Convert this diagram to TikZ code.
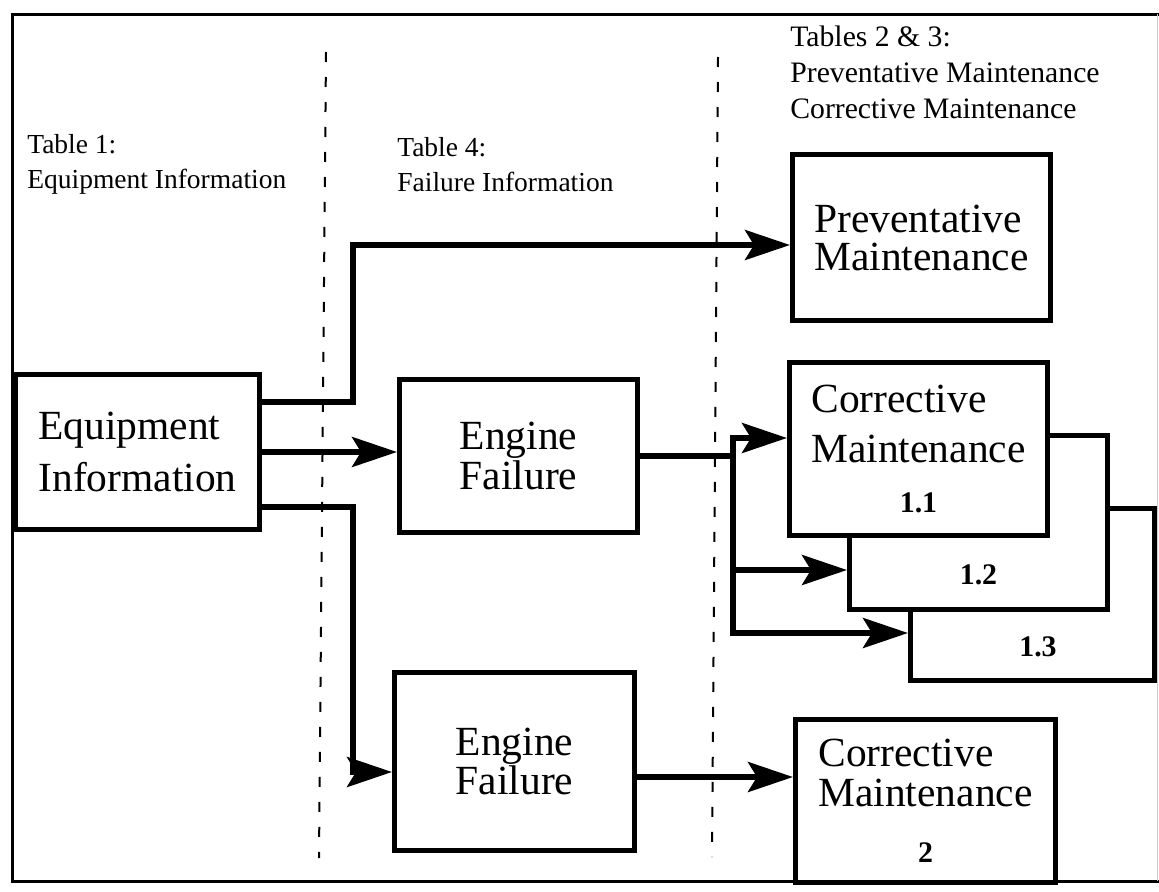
\documentclass[tikz,border=0pt]{standalone}
\usepackage{fontspec}
\setmainfont{Liberation Serif}
\usepackage{tikz}
\usetikzlibrary{arrows.meta}

% box text: size fixed, line spacing per box
\newcommand{\boxfont}[1]{\fontsize{23.6}{#1}\selectfont}
\newcommand{\numfont}{\fontsize{17}{20}\selectfont\bfseries}

\begin{document}
\begin{tikzpicture}[node distance=1cm]
\tikzstyle{infobox} = [rectangle, draw=black, line width=0.1cm, fill=white, inner sep=0pt, align=left]
\tikzstyle{tablelabel} = [anchor=north west, inner sep=0pt, align=left, font=\fontsize{15.65}{19.9}\selectfont]
\tikzstyle{numtext} = [inner sep=0pt, font=\numfont]
\tikzstyle{line} = [draw, line width=0.11cm]
\tikzstyle{arrow} = [draw, line width=0.11cm, -{Stealth[length=0.9cm, width=0.6cm, inset=0.18cm]}]
\tikzstyle{divider} = [draw, line width=0.04cm, dash pattern=on 0.2cm off 0.3cm]

\useasboundingbox (0,0) rectangle (23.18,-17.84);

% outer frame
\draw [line width=0.06cm] (23.18,-0.28) -- (0.26,-0.28) -- (0.26,-17.62) -- (23.18,-17.62);
\draw [gray!40, line width=0.02cm] (23.14,-0.28) -- (23.14,-17.62);

% column dividers
\draw [divider] (6.52,-1.04) -- (6.38,-17.16);
\draw [divider] (14.36,-1.14) -- (14.24,-17.14);

% column headings
\node (tab1) [tablelabel] at (0.54,-2.68) {Table 1:\\Equipment Information};
\node (tab4) [tablelabel] at (7.94,-2.74) {Table 4:\\Failure Information};
\node (tab23) [tablelabel, font=\fontsize{16.9}{20.4}\selectfont] at (15.8,-0.52) {Tables 2 \& 3:\\Preventative Maintenance\\Corrective Maintenance};

% boxes
\node (eqinfo) [infobox, minimum width=4.88cm, minimum height=3.1cm, font=\boxfont{29.6}] at (2.75,-9.04) {Equipment\\Information};
\node (ef1) [infobox, minimum width=4.76cm, minimum height=3.06cm, font=\boxfont{22.7}, right of=eqinfo, xshift=6.62cm, yshift=-0.08cm] {Engine\\Failure};
\node (ef2) [infobox, minimum width=4.8cm, minimum height=3.56cm, font=\boxfont{22.7}, below of=ef1, xshift=-0.08cm, yshift=-5.11cm] {Engine\\Failure};

% stacked corrective boxes, back one first
\node (cm13) [infobox, minimum width=4.88cm, minimum height=3.44cm, right of=ef1, xshift=9.28cm, yshift=-2.77cm] {};
\node (cm12) [infobox, minimum width=5.16cm, minimum height=3.48cm, left of=cm13, xshift=-0.08cm, yshift=1.44cm] {};
\node (cm11) [infobox, minimum width=5.16cm, minimum height=3.46cm, font=\boxfont{28.4}, left of=cm12, xshift=-0.2cm, yshift=1.47cm] {Corrective\\Maintenance\\\hfill{\numfont 1.1}\hfill\null};
\node (n13) [numtext] at ([xshift=0.11cm, yshift=0.72cm]cm13.south) {1.3};
\node (n12) [numtext] at ([yshift=0.74cm]cm12.south) {1.2};

\node (pm) [infobox, minimum width=5.16cm, minimum height=3.32cm, font=\boxfont{21.6}, above of=cm11, xshift=0.06cm, yshift=3.23cm] {Preventative\\Maintenance};
\node (cm2) [infobox, minimum width=5.2cm, minimum height=3.26cm, font=\boxfont{22.6}, right of=ef2, xshift=7.22cm, yshift=-0.79cm] {Corrective\\Maintenance\\[9.5pt]\hfill{\numfont 2}\hfill\null};

% connectors
\draw [arrow] ([yshift=1cm]eqinfo.east) -- ++(1.82,0) |- ([yshift=-0.15cm]pm.west);
\draw [arrow] (eqinfo) -- (eqinfo -| ef1.west);
\draw [arrow] ([yshift=-1.1cm]eqinfo.east) -- ++(1.82,0) |- ([yshift=-0.21cm]ef2.west);

\draw [line] (ef1.east) -- ++(1.86,0) coordinate (fork);
\draw [arrow] (fork) |- ([yshift=0.22cm]cm11.west);
\draw [arrow] (fork) |- ([yshift=-0.95cm]cm12.west);
\draw [arrow] (fork) |- ([yshift=-0.77cm]cm13.west);

\draw [arrow] ([yshift=-0.31cm]ef2.east) coordinate (ef2out) -- (ef2out -| cm2.west);

\end{tikzpicture}
\end{document}
